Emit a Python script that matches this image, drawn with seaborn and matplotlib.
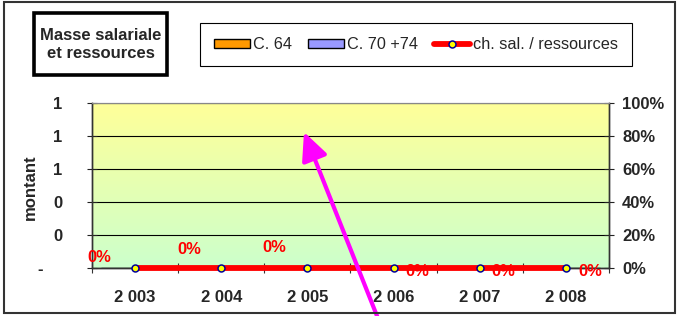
import numpy as np
import pandas as pd
import matplotlib
matplotlib.use("Agg")
import matplotlib.pyplot as plt
from matplotlib.patches import Rectangle
from matplotlib.ticker import FixedLocator, FuncFormatter, PercentFormatter
import seaborn as sns

# ---- data ----
years = [2003, 2004, 2005, 2006, 2007, 2008]
year_labels = ["2 003", "2 004", "2 005", "2 006", "2 007", "2 008"]
c64 = [0, 0, 0, 0, 0, 0]
c70_74 = [0, 0, 0, 0, 0, 0]
ratio = [0.0, 0.0, 0.0, 0.0, 0.0, 0.0]
left_ticks = [0, 0.2, 0.4, 0.6, 0.8, 1.0]
right_ticks = [0, 0.2, 0.4, 0.6, 0.8, 1.0]

sns.set_theme(style="white")
plt.rcParams["font.family"] = ["Liberation Sans", "DejaVu Sans"]
FS = 12

W, H = 679, 316
fig = plt.figure(figsize=(W / 100, H / 100), dpi=100)
fig.patch.set_facecolor("white")

L, R, T, B = 92, 609, 103, 268
ax = fig.add_axes([L / W, 1 - B / H, (R - L) / W, (B - T) / H])

# gradient background
grad = np.linspace(0, 1, 256).reshape(-1, 1)
cmap = matplotlib.colors.LinearSegmentedColormap.from_list("g", ["#FFFF99", "#CCFFCC"])
ax.imshow(grad, extent=[0, 1, 0, 1], transform=ax.transAxes, aspect="auto",
          cmap=cmap, zorder=0)

df = pd.DataFrame({
    "year": year_labels * 2,
    "value": c64 + c70_74,
    "serie": ["C. 64"] * len(years) + ["C. 70 +74"] * len(years),
})
sns.barplot(data=df, x="year", y="value", hue="serie", ax=ax,
            palette=["#FF9900", "#9999FF"], saturation=1, edgecolor="black",
            linewidth=1.0, legend=True, zorder=2)
handles, labels = ax.get_legend_handles_labels()
if ax.get_legend() is not None:
    ax.get_legend().remove()

ax.set_xlim(-0.5, len(years) - 0.5)
ax.set_ylim(0, 1)
ax.yaxis.set_major_locator(FixedLocator(left_ticks))


def left_fmt(v, pos):
    if abs(v) < 1e-9:
        return "-\u00a0\u00a0\u00a0\u00a0"
    return f"{v:.0f}"


ax.yaxis.set_major_formatter(FuncFormatter(left_fmt))
ax.set_xticks(range(len(years)))
ax.set_xticklabels(year_labels)
ax.set_xticks(np.arange(-0.5, len(years), 1.0), minor=True)
ax.tick_params(axis="x", which="major", length=0, pad=16, labelsize=FS)
ax.tick_params(axis="x", which="minor", direction="inout", length=7.5,
               width=0.8, color="#333333", bottom=True)
ax.tick_params(axis="y", which="major", direction="inout", length=7.2,
               width=0.8, color="#222222", pad=18, labelsize=FS, left=True)
for t in ax.get_xticklabels() + ax.get_yticklabels():
    t.set_fontweight("bold")
ax.set_xlabel("")
ax.set_ylabel("montant", fontsize=FS, fontweight="bold")
ax.yaxis.set_label_coords(-0.12, 0.49)
ax.yaxis.label.set_va("center")
ax.grid(axis="y", color="black", linewidth=0.8, zorder=1)
ax.grid(axis="x", visible=False)
ax.set_axisbelow(False)
for s in ["left", "right", "bottom"]:
    ax.spines[s].set_color("#333333")
    ax.spines[s].set_linewidth(1.0)
ax.spines["top"].set_color("#888888")
ax.spines["top"].set_linewidth(0.8)

# secondary axis: ratio
ax2 = ax.twinx()
ln_df = pd.DataFrame({"year": year_labels, "ratio": ratio})
sns.lineplot(data=ln_df, x="year", y="ratio", ax=ax2, color="#FF0000",
             linewidth=4.2, marker="o", markersize=5, markerfacecolor="#FFFF00",
             markeredgecolor="#000099", markeredgewidth=1.1, clip_on=False,
             label="ch. sal. / ressources", zorder=5)
h2, l2 = ax2.get_legend_handles_labels()
if ax2.get_legend() is not None:
    ax2.get_legend().remove()
ax2.set_ylim(0, 1)
ax2.set_xlim(-0.5, len(years) - 0.5)
ax2.yaxis.set_major_locator(FixedLocator(right_ticks))
ax2.yaxis.set_major_formatter(PercentFormatter(1.0, decimals=0))
ax2.tick_params(axis="y", which="major", direction="inout", length=7.2,
                width=0.8, color="#222222", pad=5.8, labelsize=FS, right=True)
for t in ax2.get_yticklabels():
    t.set_fontweight("bold")
ax2.set_ylabel("")
ax2.set_xlabel("")
ax2.grid(False)
for s in ["left", "right", "bottom"]:
    ax2.spines[s].set_color("#333333")
    ax2.spines[s].set_linewidth(1.0)
ax2.spines["top"].set_color("#888888")
ax2.spines["top"].set_linewidth(0.8)

# data labels (Excel-like placement)
offsets = [(-36, 11), (-32, 18), (-33, 20), (24, -3), (24, -3), (24, -3)]
for i, (v, off) in enumerate(zip(ratio, offsets)):
    ax2.annotate(f"{v:.0%}", xy=(i, v), xytext=off, textcoords="offset pixels",
                 ha="center", va="center", color="#FF0000", fontsize=FS,
                 fontweight="bold", annotation_clip=False, zorder=4)

# legend
fig.legend(handles + h2, labels + l2, loc="center",
           bbox_to_anchor=((204 + 628) / 2 / W, 1 - (22 + 67) / 2 / H),
           ncol=3, frameon=True, fancybox=False, edgecolor="black",
           fontsize=FS - 0.3, handlelength=2.2, handleheight=0.5, handletextpad=0.2,
           columnspacing=1.0, borderpad=0.85, framealpha=1)
fig.legends[0].get_frame().set_linewidth(0.8)

# title box
fig.patches.append(Rectangle((34 / W, 1 - 75 / H), 133 / W, 62 / H,
                             transform=fig.transFigure, fill=False,
                             edgecolor="black", linewidth=2.6, zorder=3))
fig.text(100.5 / W, 1 - 44 / H, "Masse salariale\net ressources", ha="center",
         va="center", fontsize=FS, fontweight="bold", linespacing=1.25)

# outer frame
fig.patches.append(Rectangle((4 / W, 1 - 313 / H), 671 / W, 311 / H,
                             transform=fig.transFigure, fill=False,
                             edgecolor="#333333", linewidth=1.5, zorder=3))

# magenta arrow
ax2.annotate("", xy=(304 / W, 1 - 132 / H), xycoords="figure fraction",
             xytext=(381 / W, 1 - 326 / H), textcoords="figure fraction",
             arrowprops=dict(arrowstyle="-|>,head_length=0.85,head_width=0.4",
                             mutation_scale=20, color="#FF00FF", lw=3,
                             shrinkA=0, shrinkB=0),
             annotation_clip=False, zorder=10)

fig.savefig("out.png", dpi=100)
